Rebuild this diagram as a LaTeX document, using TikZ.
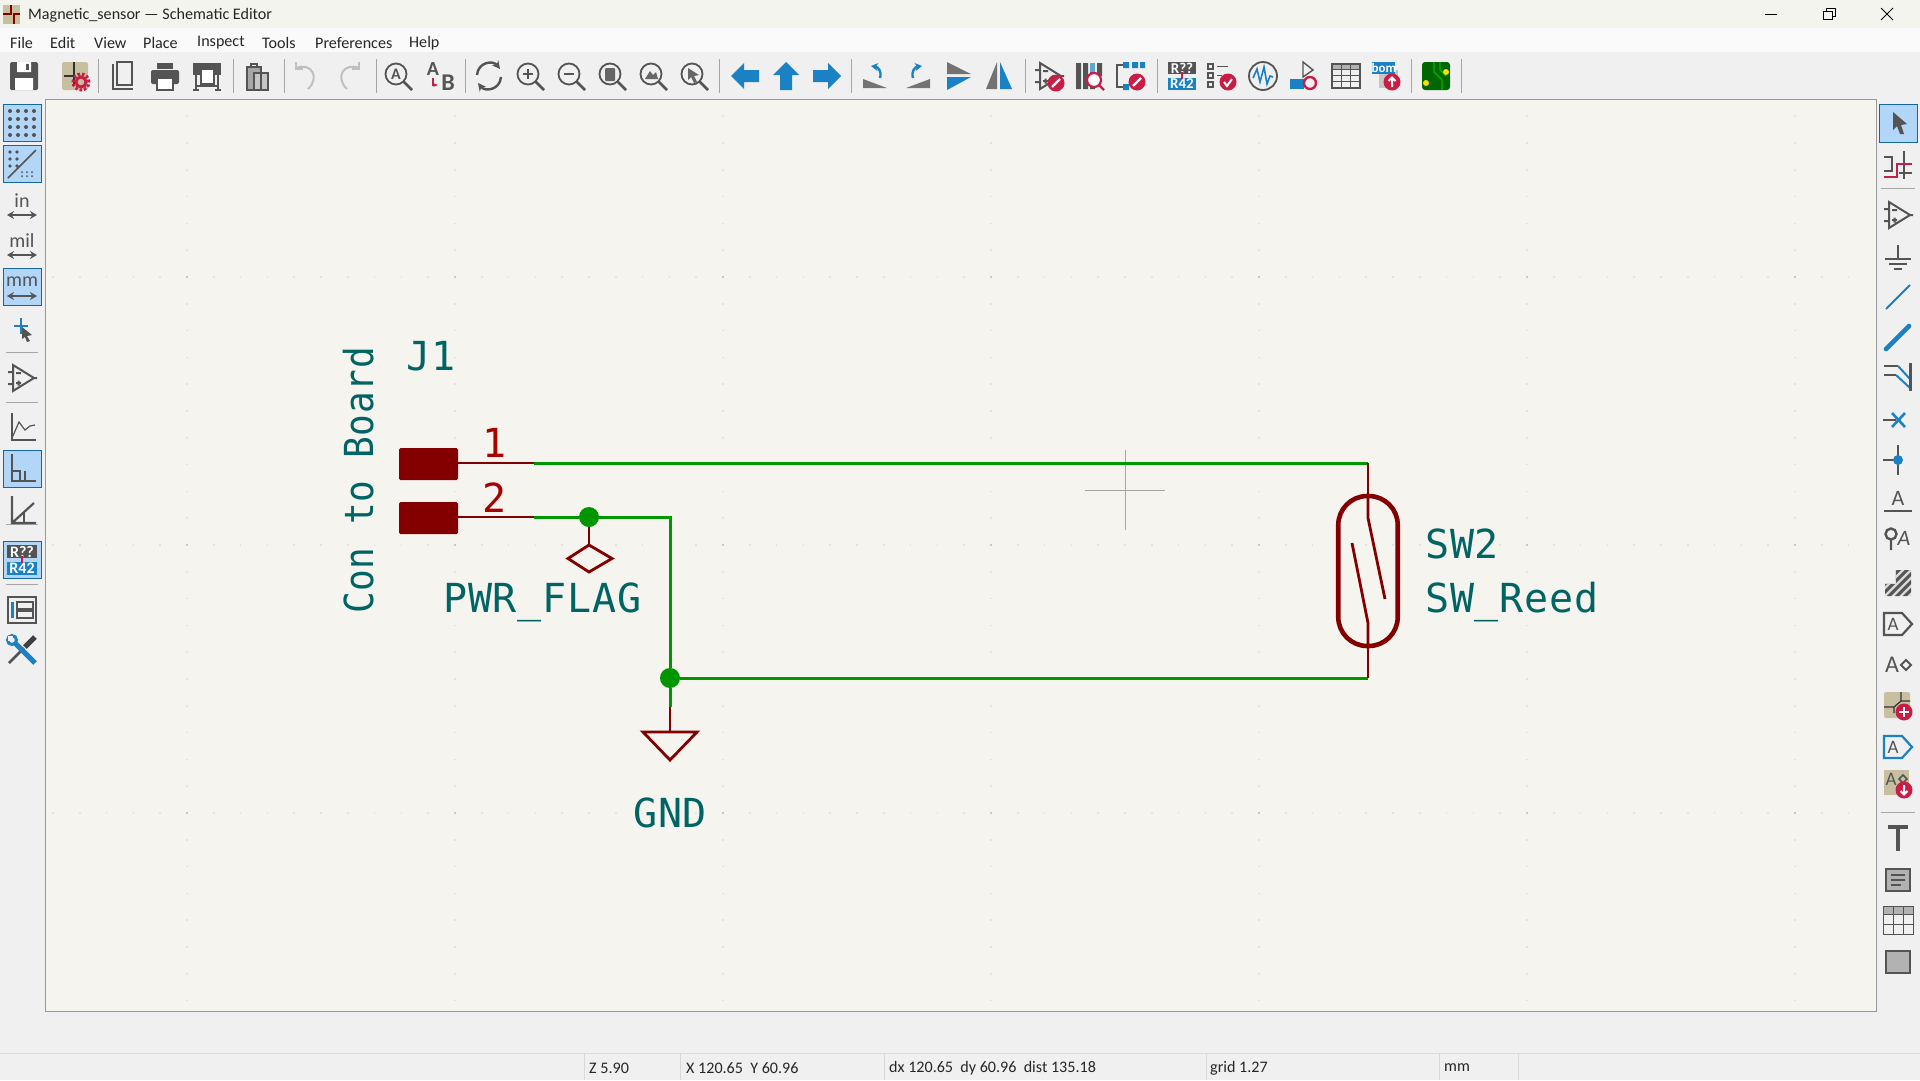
\documentclass[tikz,border=0pt]{standalone}
\usepackage{fontspec}
\setmainfont{Carlito}
\newfontfamily\schfont[LetterSpace=2]{DejaVu Sans Mono}
\usepackage{xcolor}
\usetikzlibrary{positioning,arrows.meta}
\definecolor{canvasbg}{RGB}{245,244,239}
\definecolor{winbg}{RGB}{240,240,240}
\definecolor{titlebg}{RGB}{243,244,238}
\definecolor{wiregreen}{RGB}{0,150,0}
\definecolor{symred}{RGB}{132,0,0}
\definecolor{pinred}{RGB}{169,0,0}
\definecolor{refteal}{RGB}{0,100,100}
\definecolor{icongrey}{RGB}{84,84,84}
\definecolor{iconblue}{RGB}{26,129,196}
\definecolor{iconred}{RGB}{200,30,70}
\definecolor{icontan}{RGB}{200,190,160}
\definecolor{hilite}{RGB}{178,214,247}
\newcommand{\ic}[3]{\begin{scope}[shift={(#1,#2)}]#3\end{scope}}
\newcommand{\magn}[1]{\draw[icn,line width=1.8pt] (-2,-2) circle[radius=10.5pt]; \draw[icn,line width=2.6pt] (5.5,5.5) -- (14,14); #1}
\newcommand{\opamp}{\draw[icn,line width=2pt] (-9,-13) -- (12,0) -- (-9,13) -- cycle (-14,-6) -- (-9,-6) (-14,6) -- (-9,6) (12,0) -- (15,0) (-6,-5) -- (-1,-5) (-6,5) -- (-1,5) (-3.5,2.5) -- (-3.5,7.5);}
\newcommand{\badge}[2]{\fill[iconred] (#1,#2) circle[radius=8.5pt];}
\newcommand{\unitarrow}{\draw[icn, line width=2.2pt, {Stealth[length=7pt,width=8pt]}-{Stealth[length=7pt,width=8pt]}] (-15,9) -- (15,9);}
\begin{document}
\begin{tikzpicture}[
        x=1pt, y=-1pt,
        icn/.style={draw=icongrey, line width=1.6pt},
        icnb/.style={draw=iconblue, line width=1.6pt},
        tbsep/.style={draw=gray!70, line width=0.8pt},
        hibox/.style={fill=hilite, draw=iconblue!80!black, line width=1pt},
        uitext/.style={inner sep=0pt, font=\fontsize{16.1}{18}\selectfont, text=black!85},
        icontext/.style={inner sep=0pt, text=icongrey},
        reftext/.style={inner sep=0pt, anchor=base west, text=refteal, font=\schfont\fontsize{40}{40}\selectfont},
        numtext/.style={inner sep=0pt, anchor=base, text=pinred, font=\schfont\fontsize{40}{40}\selectfont},
        padbox/.style={fill=symred, draw=none, inner sep=0pt, outer sep=0pt, minimum width=59pt, minimum height=32pt, rounded corners=1.5pt},
        reedbody/.style={draw=symred, line width=4.6pt, inner sep=0pt, outer sep=0pt, minimum width=59.5pt, minimum height=150pt, rounded corners=29pt},
        pinline/.style={draw=symred, line width=2.8pt},
        wire/.style={draw=wiregreen, line width=3pt},
        junc/.style={circle, fill=wiregreen, inner sep=0pt, minimum size=20pt}
    ]
        \useasboundingbox (0,0) rectangle (1920,1080);
        % window
        \fill[winbg] (0,0) rectangle (1920,1080);
        \fill[titlebg] (0,0) rectangle (1920,28);
        \fill[white!98!black] (0,28) rectangle (1920,52);
        \fill[canvasbg] (45,99) rectangle (1876,1011);
        \draw[gray!80, line width=1pt] (45,1011) -- (45,99) -- (1876,99) -- (1876,1011) -- cycle;
        \draw[gray!30, line width=1pt] (0,1053) -- (1920,1053);

        % grid dots
        \foreach \gy in {277,545,813}
            \draw[black!11, line width=2pt, dash pattern=on 1.6pt off 25.2pt] (52.2,\gy) -- (1870,\gy);
        \foreach \gx in {187,455,723,991,1259,1527,1795}
            \draw[black!11, line width=2pt, dash pattern=on 1.6pt off 25.2pt] (\gx,115.4) -- (\gx,1005);
        \foreach \gx in {187,455,723,991,1259,1527,1795}
            \foreach \gy in {277,545,813}
                \fill[black!25] (\gx,\gy) circle[radius=1.2pt];

        % title and menu
        \fill[icontan] (3,5) rectangle (20,24);
        \draw[symred, line width=1.4pt] (11,5) -- (11,14) -- (3,14) (14,24) -- (14,14) -- (20,14);
        \node[uitext, anchor=west] (title) at (28,15) {Magnetic\_sensor — Schematic Editor};
        \node[uitext, anchor=west] (mfile) at (10,43) {File};
        \node[uitext, anchor=west] (medit) at (50,43) {Edit};
        \node[uitext, anchor=west] (mview) at (94,43) {View};
        \node[uitext, anchor=west] (mplace) at (143,43) {Place};
        \node[uitext, anchor=west] (minspect) at (197,43) {Inspect};
        \node[uitext, anchor=west] (mtools) at (262,43) {Tools};
        \node[uitext, anchor=west] (mprefs) at (315,43) {Preferences};
        \node[uitext, anchor=west] (mhelp) at (409,43) {Help};
        \draw[black, line width=1pt] (1765,14) -- (1777,14);
        \draw[black, line width=1pt] (1823,11) rectangle (1832,19) (1826,11) -- (1826,8) -- (1835,8) -- (1835,16) -- (1832,16);
        \draw[black, line width=1pt] (1881,8) -- (1893,20) (1893,8) -- (1881,20);

        % toolbar separators
        \foreach \sx in {98,233,284,376,465,719,851,1025,1157,1411,1461}
            \draw[tbsep] (\sx,59) -- (\sx,93);
        \foreach \sy in {352,402,524,584}
            \draw[tbsep] (6,\sy) -- (38,\sy);
        \foreach \sy in {188,812}
            \draw[tbsep] (1881,\sy) -- (1915,\sy);

        % top toolbar
        \ic{24}{76}{\fill[icongrey, rounded corners=1.5pt] (-14,-14) rectangle (14,14);
            \fill[white] (-7,-14) rectangle (7,-4) (-9,2) rectangle (9,14);
            \fill[icongrey] (2,-12) rectangle (5,-6);}
        \ic{76}{76}{\fill[icontan, rounded corners=2pt] (-14,-14) rectangle (12,14);
            \draw[black!80, line width=1.4pt] (-2,-14) -- (-2,0) -- (-12,0) (-2,0) -- (-2,10);
            \draw[iconred, line width=3pt, dash pattern=on 2.5pt off 2pt] (5,6) circle[radius=8pt];
            \draw[iconred, line width=3pt] (5,6) circle[radius=5pt];}
        \ic{124}{76}{\draw[icn] (-7,-14) -- (8,-14) -- (8,9) -- (-7,9) -- cycle (-11,-12) -- (-11,13) -- (9,13);}
        \ic{165}{76}{\fill[icongrey, rounded corners=2pt] (-14,-6) rectangle (14,8);
            \fill[icongrey] (-8,-13) rectangle (8,-7);
            \fill[white] (-8,2) rectangle (8,14);
            \draw[icn] (-8,2) rectangle (8,14);}
        \ic{207}{76}{\fill[icongrey] (-14,-13) rectangle (14,-1);
            \fill[white] (-6,-7) rectangle (7,8);
            \draw[icn] (-6,-7) rectangle (7,8) (-11,-1) -- (-11,14) (11,-1) -- (11,14) (-14,14) -- (-8,14) (8,14) -- (14,14) (-11,10) -- (11,10);}
        \ic{258}{76}{\fill[gray!70] (-11,-9) rectangle (3,14);
            \fill[gray!45] (-4,-3) rectangle (10,14);
            \draw[icn, line width=1.2pt] (-11,-9) rectangle (3,14) (-4,-3) rectangle (10,14) (-7,-12) rectangle (-1,-9);}
        \ic{306}{76}{\draw[gray!50, line width=2pt] (-10,-8) .. controls (6,-14) and (14,2) .. (2,13);
            \draw[gray!50, line width=2pt] (-10,-14) -- (-10,-7) -- (-3,-7);}
        \ic{349}{76}{\draw[gray!50, line width=2pt] (10,-8) .. controls (-6,-14) and (-14,2) .. (-2,13);
            \draw[gray!50, line width=2pt] (10,-14) -- (10,-7) -- (3,-7);}
        \ic{398}{76}{\magn{\node[icontext, font=\bfseries\fontsize{16}{16}\selectfont] (findA) at (-2,-2) {A};}}
        \ic{440}{76}{\node[icontext, font=\bfseries\fontsize{20}{20}\selectfont] (replA) at (-7,-7) {A};
            \node[icontext, font=\bfseries\fontsize{24}{24}\selectfont] (replB) at (8,7) {B};
            \draw[iconred, line width=2pt, -{Stealth[length=5pt]}] (-7,2) -- (-7,9) -- (-2,9);}
        \ic{489}{76}{\draw[icn, line width=2.4pt, -{Stealth[length=8pt,width=8pt]}] (-12,-1) .. controls (-11,-14) and (4,-16) .. (11,-7);
            \draw[icn, line width=2.4pt, -{Stealth[length=8pt,width=8pt]}] (12,1) .. controls (11,14) and (-4,16) .. (-11,7);}
        \ic{530}{76}{\magn{\draw[icn] (-7,-2) -- (3,-2) (-2,-7) -- (-2,3);}}
        \ic{571}{76}{\magn{\draw[icn] (-7,-2) -- (3,-2);}}
        \ic{612}{76}{\magn{\fill[gray!80!black, rounded corners=1pt] (-7,-8) rectangle (3,5);}}
        \ic{653}{76}{\magn{\fill[gray!80!black] (-8,3) -- (-3,-5) -- (0,-1) -- (3,-4) -- (5,3) -- cycle;}}
        \ic{694}{76}{\magn{\fill[gray!80!black] (-6,-8) -- (5,-1) -- (0,0) -- (3,6) -- (0,7) -- (-3,1) -- (-6,4) -- cycle;}}
        \ic{745}{76}{\fill[iconblue] (-14,0) -- (-1,-13) -- (-1,-6) -- (14,-6) -- (14,6) -- (-1,6) -- (-1,13) -- cycle;}
        \ic{786}{76}{\fill[iconblue] (0,-14) -- (13,-1) -- (6,-1) -- (6,14) -- (-6,14) -- (-6,-1) -- (-13,-1) -- cycle;}
        \ic{827}{76}{\fill[iconblue] (14,0) -- (1,-13) -- (1,-6) -- (-14,-6) -- (-14,6) -- (1,6) -- (1,13) -- cycle;}
        \ic{875}{76}{\fill[gray!90!black] (-12,12) -- (-12,3) -- (12,12) -- cycle;
            \draw[iconblue, line width=2.4pt, -{Stealth[length=7pt,width=8pt]}] (5,2) .. controls (7,-5) and (3,-9) .. (-4,-10);}
        \ic{918}{76}{\fill[gray!90!black] (12,12) -- (12,3) -- (-12,12) -- cycle;
            \draw[iconblue, line width=2.4pt, -{Stealth[length=7pt,width=8pt]}] (-5,2) .. controls (-7,-5) and (-3,-9) .. (4,-10);}
        \ic{958}{76}{\fill[gray!90!black] (-11,-14) -- (13,-2) -- (-11,-2) -- cycle;
            \fill[iconblue] (-11,14) -- (13,1) -- (-11,1) -- cycle;}
        \ic{999}{76}{\fill[gray!90!black] (-13,13) -- (-2,-14) -- (-2,13) -- cycle;
            \fill[iconblue] (13,13) -- (1,-14) -- (1,13) -- cycle;}
        \ic{1049}{76}{\opamp
            \badge{7}{7}
            \draw[white, line width=2.4pt] (3,11) -- (11,3);}
        \ic{1090}{76}{\fill[icongrey] (-14,-13) rectangle (-9,13) (-7,-13) rectangle (-2,13);
            \fill[iconblue!70] (0,-13) rectangle (5,-4);
            \fill[icongrey] (0,-4) rectangle (5,13) (7,-13) rectangle (12,0);
            \fill[white] (4,4) circle[radius=7pt];
            \draw[iconred, line width=2.2pt] (4,4) circle[radius=7pt] (9,9) -- (14,14);}
        \ic{1131}{76}{\fill[iconblue] (-8,-14) rectangle (-2,-8) (1,-14) rectangle (7,-8) (9,-14) rectangle (14,-8) (-8,8) rectangle (-2,14);
            \draw[icn, line width=1.2pt] (-8,-11) -- (-14,-11) -- (-14,11) -- (-8,11);
            \badge{6}{6}
            \draw[white, line width=2.4pt] (2,10) -- (10,2);}
        \ic{1182}{76}{\fill[icongrey] (-14,-14) rectangle (14,-2);
            \fill[iconblue] (-14,2) rectangle (14,14);
            \node[icontext, text=white, font=\bfseries\fontsize{15}{15}\selectfont] (annoT) at (0,-8) {R??};
            \node[icontext, text=white, font=\bfseries\fontsize{15}{15}\selectfont] (annoB) at (0,8) {R42};
            \draw[iconred, line width=1.6pt] (0,-4) -- (0,3);}
        \ic{1222}{76}{\draw[icn, line width=1.2pt] (-14,-12) rectangle (-9,-7) (-14,-3) rectangle (-9,2) (-14,6) rectangle (-9,11) (-5,-9.5) -- (6,-9.5) (-5,-0.5) -- (0,-0.5);
            \badge{6}{6}
            \draw[white, line width=2pt] (2,6) -- (5,10) -- (10,3);}
        \ic{1263}{76}{\draw[icn, line width=1.8pt] (0,0) circle[radius=14pt];
            \draw[iconblue, line width=1.6pt] (-10,2) -- (-6,-7) -- (-3,6) -- (1,-9) -- (4,8) -- (7,0) -- (10,1);}
        \ic{1304}{76}{\draw[icn, line width=1.4pt] (-1,-14) -- (9,-6) -- (-1,1) -- cycle;
            \fill[iconblue] (-14,3) rectangle (0,13);
            \draw[iconred, line width=2.4pt] (6,7) circle[radius=6pt];}
        \ic{1346}{76}{\fill[gray!60] (-14,-12) rectangle (14,-7);
            \draw[icn, line width=1.2pt] (-14,-12) rectangle (14,12);
            \foreach \tx in {-5,4} \draw[icn, line width=1pt] (\tx,-12) -- (\tx,12);
            \foreach \ty in {-7,-1,5} \draw[icn, line width=1pt] (-14,\ty) -- (14,\ty);}
        \ic{1386}{76}{\fill[gray!45] (-7,-6) rectangle (12,12);
            \fill[iconblue] (-14,-14) rectangle (9,-2);
            \node[icontext, text=white, font=\bfseries\fontsize{13}{13}\selectfont] (bomtxt) at (-2,-8) {bom};
            \badge{6}{6}
            \draw[white, line width=2pt] (6,11) -- (6,2) (2.5,5) -- (6,1.5) -- (9.5,5);}
        \ic{1436}{76}{\fill[green!40!black, rounded corners=3pt] (-14,-14) rectangle (14,14);
            \draw[green!70!black, line width=1.4pt] (-2,-14) -- (-2,-4) -- (6,4) -- (6,14) (4,-14) -- (4,-6) -- (10,0);
            \fill[yellow!80!orange] (-10,7) circle[radius=3pt] (10,-4) circle[radius=3pt];}

        % left toolbar
        \foreach \by in {104,145,268,450,541}
            \fill[hibox] (3,\by) rectangle (41,\by+37.5);
        \ic{22}{123}{\foreach \ga in {-12,-4,4,12} \foreach \gb in {-12,-4,4,12}
            \fill[icongrey] (\ga,\gb) circle[radius=2pt];}
        \ic{22}{164}{\foreach \ga in {-12,-5} \foreach \gb in {-12,-5,2}
            \fill[icongrey] (\ga,\gb) circle[radius=1.8pt];
            \foreach \ga in {0,5,10} \foreach \gb in {8,12}
            \fill[icongrey] (\ga,\gb) circle[radius=1pt];
            \draw[icn] (-14,14) -- (14,-14);}
        \ic{22}{206}{\node[icontext, font=\fontsize{20}{20}\selectfont] (unitin) at (0,-5) {in};
            \unitarrow}
        \ic{22}{246}{\node[icontext, font=\fontsize{20}{20}\selectfont] (unitmil) at (0,-5) {mil};
            \unitarrow}
        \ic{22}{287}{\node[icontext, font=\fontsize{20}{20}\selectfont] (unitmm) at (0,-5) {mm};
            \unitarrow}
        \ic{22}{329}{\draw[iconblue, line width=2.4pt] (-8,-3) -- (6,-3) (-1,-11) -- (-1,5);
            \fill[icongrey] (0,-2) -- (10,6) -- (5,7) -- (8,12) -- (5,13) -- (3,8) -- (0,10) -- cycle;}
        \ic{22}{378}{\opamp}
        \ic{22}{427}{\draw[icn, line width=2.2pt] (-10,-14) -- (-10,13) -- (14,13);
            \draw[icn, line width=1.2pt] (-10,11) -- (-3,-5) -- (3,3) -- (8,-1) -- (13,-2);}
        \ic{22}{468}{\draw[icn, line width=2.2pt] (-10,-14) -- (-10,13) -- (14,13);
            \draw[icn, line width=1.2pt] (-10,3) -- (-2,3) -- (-2,13) (3,3) -- (3,13);}
        \ic{22}{510}{\draw[icn, line width=2.2pt] (-10,-14) -- (-10,13) -- (14,13) (-10,13) -- (12,-7);
            \draw[icn, line width=1.2pt] (2,2) -- (2,13);}
        \ic{22}{560}{\fill[icongrey] (-15,-15) rectangle (15,-2);
            \fill[iconblue] (-15,2) rectangle (15,15);
            \node[icontext, text=white, font=\bfseries\fontsize{16}{16}\selectfont] (leftannoT) at (0,-8) {R??};
            \node[icontext, text=white, font=\bfseries\fontsize{16}{16}\selectfont] (leftannoB) at (0,8) {R42};
            \draw[iconred, line width=1.6pt] (0,-4) -- (0,3);}
        \ic{22}{610}{\draw[icn, line width=2pt] (-14,-13) rectangle (14,13);
            \fill[iconblue] (-11,-8) rectangle (-8,8);
            \draw[icn, line width=1.4pt] (-5,-8) rectangle (11,-1) (-5,1) rectangle (11,8);}
        \ic{22}{650}{\draw[icongrey, line width=2.6pt] (-13,13) -- (2,-2);
            \draw[black!75, line width=5pt] (3,-3) -- (13,-13);
            \draw[iconblue, line width=5pt] (-7,-7) -- (13,13);
            \draw[iconblue, line width=3pt] (-10,-10) circle[radius=4.5pt];
            \fill[winbg] (-14,-14) -- (-9,-14) -- (-10,-10) -- (-14,-9) -- cycle;}

        % right toolbar
        \fill[hibox] (1879,104) rectangle (1917,142);
        \ic{1898}{123}{\fill[icongrey] (-5,-11) -- (9,1) -- (3,2) -- (6,11) -- (2,11) -- (-1,3) -- (-5,7) -- cycle;}
        \ic{1898}{165}{\draw[icn, line width=2.2pt] (-14,-8) -- (-6,-8) -- (-6,6) -- (-14,6) (6,-14) -- (6,14) (1,8) -- (14,8);
            \draw[iconred, line width=2.2pt] (-14,12) -- (-1,12) -- (-1,-1) -- (14,-1);}
        \ic{1898}{215}{\opamp}
        \ic{1898}{257}{\draw[icn, line width=2pt] (0,-12) -- (0,2) (-13,2) -- (13,2) (-9,7) -- (9,7);
            \draw[icn, line width=2.4pt] (-4,12) -- (4,12);}
        \ic{1898}{297}{\draw[icnb, line width=2pt] (-12,12) -- (12,-12);}
        \ic{1898}{337}{\draw[iconblue, line width=4.6pt, line cap=round] (-12,12) -- (11,-11);}
        \ic{1898}{377}{\draw[icn, line width=2pt] (-14,-11) -- (0,-11) (-14,-2) -- (-2,-2);
            \draw[icnb, line width=2pt] (0,-11) -- (12,2) (-2,-2) -- (12,11);
            \draw[icn, line width=3pt] (12,-14) -- (12,14);}
        \ic{1898}{420}{\draw[icn, line width=1.2pt] (-15,0) -- (-2,0);
            \draw[iconblue, line width=2.6pt] (-6,-7) -- (7,7) (-6,7) -- (7,-7);}
        \ic{1898}{460}{\draw[icn, line width=1.6pt] (-15,0) -- (0,0) (0,-15) -- (0,15);
            \fill[iconblue] (0,0) circle[radius=5pt];}
        \ic{1898}{502}{\node[icontext, font=\fontsize{22}{22}\selectfont] (lblA) at (0,-4) {A};
            \draw[icn, line width=1.8pt] (-14,9) -- (14,9);}
        \ic{1898}{538}{\draw[icn, line width=2.4pt] (-7,-4) circle[radius=5.5pt] (-7,2) -- (-7,12);
            \node[icontext, font=\itshape\fontsize{22}{22}\selectfont] (classA) at (6,0) {A};}
        \ic{1898}{583}{\fill[gray!30] (-13,-13) rectangle (13,13);
            \begin{scope}
                \clip (-2,-13) -- (13,-13) -- (13,13) -- (-13,13) -- (-13,1) -- (-2,1) -- cycle;
                \foreach \hx in {-26,-18,-10,-2,6,14}
                    \draw[icongrey, line width=3pt] (\hx,14) -- (\hx+28,-14);
            \end{scope}
            \fill[winbg] (-14,-14) rectangle (-3,0);}
        \ic{1898}{624}{\draw[icn, line width=2.2pt] (-14,-11) -- (4,-11) -- (14,0) -- (4,11) -- (-14,11) -- cycle;
            \node[icontext, font=\fontsize{19}{19}\selectfont] (globalA) at (-5,0) {A};}
        \ic{1898}{665}{\node[icontext, font=\fontsize{24}{24}\selectfont] (pwrA) at (-6,0) {A};
            \draw[icn, line width=2pt] (3,0) -- (8,-5) -- (13,0) -- (8,5) -- cycle;}
        \ic{1898}{705}{\fill[icontan, rounded corners=2pt] (-14,-13) rectangle (12,13);
            \draw[black!80, line width=1.2pt] (-14,2) -- (-4,2) -- (-4,8) (-4,2) -- (3,-4) -- (3,-13) (3,-4) -- (12,-4);
            \badge{6}{7}
            \draw[white, line width=2.4pt] (1,7) -- (11,7) (6,2) -- (6,12);}
        \ic{1898}{747}{\draw[icnb, line width=2.2pt] (-14,-11) -- (4,-11) -- (14,0) -- (4,11) -- (-14,11) -- cycle;
            \node[icontext, font=\fontsize{19}{19}\selectfont] (hierA) at (-5,0) {A};}
        \ic{1898}{783}{\fill[icontan] (-14,-13) rectangle (11,12);
            \node[icontext, font=\fontsize{19}{19}\selectfont] (pinA) at (-7,-4) {A};
            \draw[icn, line width=1.6pt] (1,-4) -- (5,-8) -- (9,-4) -- (5,0) -- cycle;
            \badge{6}{7}
            \draw[white, line width=2pt] (6,2) -- (6,11) (2.5,8) -- (6,11.5) -- (9.5,8);}
        \ic{1898}{838}{\draw[icongrey, line width=3.4pt] (-10,-11) -- (10,-11) (0,-11) -- (0,13);}
        \ic{1898}{880}{\fill[gray!60] (-12,-11) rectangle (12,11);
            \draw[icn, line width=2.4pt] (-12,-11) rectangle (12,11);
            \draw[icn, line width=1.4pt] (-7,-5) -- (7,-5) (-7,0) -- (7,0) (-7,5) -- (3,5);}
        \ic{1898}{920}{\fill[gray!60] (-15,-14) rectangle (15,-6);
            \draw[icn, line width=1pt] (-15,-14) rectangle (15,14);
            \foreach \tx in {-5,5} \draw[icn, line width=1pt] (\tx,-14) -- (\tx,14);
            \foreach \ty in {-6,4} \draw[icn, line width=1pt] (-15,\ty) -- (15,\ty);}
        \ic{1898}{962}{\fill[gray!60] (-12,-11) rectangle (12,11);
            \draw[icn, line width=2.4pt] (-12,-11) rectangle (12,11);}

        % status bar
        \foreach \sx in {584.5,680.5,884.5,1206,1439,1518}
            \draw[gray!30, line width=1pt] (\sx,1053) -- (\sx,1080);
        \node[uitext, anchor=west] (zoomval) at (589,1068) {Z 5.90};
        \node[uitext, anchor=west] (xyval) at (686,1068) {X 120.65 \ Y 60.96};
        \node[uitext, anchor=west] (dxyval) at (889,1068) {dx 120.65 \ dy 60.96 \ dist 135.18};
        \node[uitext, anchor=west] (gridval) at (1210,1068) {grid 1.27};
        \node[uitext, anchor=west] (unitval) at (1444,1068) {mm};

        % cursor
        \draw[gray!70, line width=0.8pt] (1085,490) -- (1165,490) (1125,450) -- (1125,530);

        % connector J1
        \node[padbox] (pad1) at (428.5,464) {};
        \node[padbox] (pad2) at (428.5,518) {};
        \coordinate (pinend1) at (534,463);
        \coordinate (pinend2) at (534,517);
        \node[reftext] (refJ1) at (406,370) {J1};
        \node[reftext, rotate=90, xscale=0.9] (valJ1) at (373,614) {Con to Board};
        \node[numtext] (num1) at (495,457) {1};
        \node[numtext] (num2) at (495,512) {2};

        % reed switch
        \node[reedbody] (sw2) at (1368,571) {};
        \coordinate (swtop) at (1368,463);
        \coordinate (swbot) at (1368,678);
        \node[reftext] (refSW) at (1425,558) {SW2};
        \node[reftext] (valSW) at (1425,612) {SW\_Reed};

        % power symbols
        \node[junc] (j1) at (589,517) {};
        \node[junc] (j2) at (670,678) {};
        \coordinate (flagtop) at (589,545);
        \coordinate (gndwire) at (670,707);
        \coordinate (gndtop) at (670,732);
        \node[reftext] (flagtxt) at (443,612) {PWR\_FLAG};
        \node[reftext] (gndtxt) at (633,827) {GND};

        % wires
        \draw[wire] (pinend1) -- (swtop);
        \draw[wire] (pinend2) -- (j1) -- (j1 -| j2) -- (j2);
        \draw[wire] (j2) -- (swbot);
        \draw[wire] (j2) -- (gndwire);

        % pins
        \draw[pinline] (pad1.east |- pinend1) -- (pinend1);
        \draw[pinline] (pad2.east |- pinend2) -- (pinend2);
        \draw[pinline] (swtop) -- (sw2.north);
        \draw[pinline] (swbot) -- (sw2.south);
        \draw[pinline] (sw2.north) -- (1368,518) -- (1385,599);
        \draw[pinline] (sw2.south) -- (1368,623) -- (1352,543);
        \draw[pinline] (j1) -- (flagtop);
        \draw[pinline] (flagtop) -- (612,558.5) -- (589,572) -- (568,558.5) -- cycle;
        \draw[pinline] (gndwire) -- (gndtop);
        \draw[pinline, line join=miter] (643,732) -- (697,732) -- (670,760) -- cycle;
    \end{tikzpicture}
\end{document}
